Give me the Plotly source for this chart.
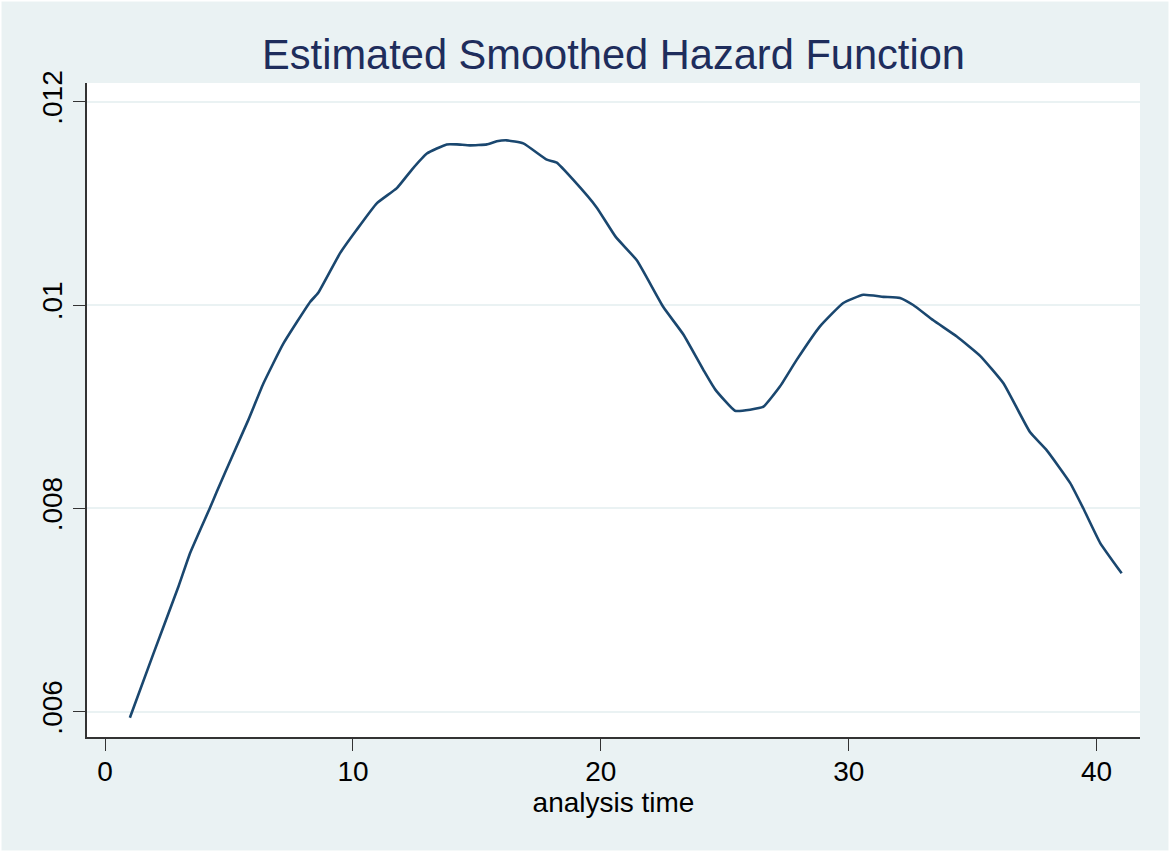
import plotly.graph_objects as go

# analysis time (x) and smoothed hazard estimate (y)
analysis_time = [1.0, 1.95, 2.96, 3.43, 4.24, 4.5, 5.18, 5.78, 6.39, 7.19, 8.27, 8.6,
                 9.48, 10.15, 10.96, 11.77, 12.37, 12.98, 13.78, 14.19, 14.72, 15.4,
                 15.8, 16.2, 16.87, 17.82, 18.22, 18.89, 19.83, 20.6, 21.45, 22.52,
                 23.33, 24.14, 24.61, 25.41, 26.02, 26.56, 27.23, 27.9, 28.84, 29.78,
                 30.59, 31.4, 32.07, 32.6, 33.41, 34.36, 35.3, 36.24, 37.31, 37.99,
                 38.93, 39.46, 40.14, 41.01]
hazard = [0.00594, 0.00657, 0.00723, 0.00756, 0.00801, 0.00816, 0.00854, 0.00887,
          0.00923, 0.00962, 0.01003, 0.01012, 0.01051, 0.01074, 0.01100, 0.01115,
          0.01133, 0.01149, 0.01158, 0.01158, 0.01157, 0.01158, 0.01161, 0.01162,
          0.01159, 0.01143, 0.01140, 0.01123, 0.01096, 0.01067, 0.01044, 0.00998,
          0.00971, 0.00936, 0.00917, 0.00896, 0.00897, 0.00900, 0.00920, 0.00946,
          0.00979, 0.01002, 0.01010, 0.01008, 0.01007, 0.01000, 0.00985, 0.00969,
          0.00950, 0.00923, 0.00875, 0.00857, 0.00825, 0.00800, 0.00766, 0.00736]

x_ticks = [0, 10, 20, 30, 40]
y_ticks = [0.006, 0.008, 0.010, 0.012]
y_tick_labels = [".006", ".008", ".01", ".012"]

BG = "#EAF2F3"
FONT = "Liberation Sans, Arial, sans-serif"

fig = go.Figure()
fig.add_trace(go.Scatter(
    x=analysis_time, y=hazard, mode="lines",
    line=dict(color="#1A476F", width=2.6, shape="spline", smoothing=0.4),
    showlegend=False, hoverinfo="x+y",
))

fig.update_layout(
    width=1170, height=852,
    paper_bgcolor=BG, plot_bgcolor="white",
    margin=dict(l=87, r=30, t=83, b=115),
    font=dict(family=FONT, color="black"),
    title=dict(text="Estimated Smoothed Hazard Function",
               x=(87 + 1140) / 2 / 1170, xanchor="center",
               y=1 - 54 / 852, yanchor="middle",
               font=dict(size=41.6, color="#1E2D5C", family=FONT)),
    showlegend=False,
)

fig.update_xaxes(
    range=[-0.73, 41.75], tickvals=x_ticks,
    ticks="outside", ticklen=12, tickwidth=1.2, tickcolor="#333333",
    tickfont=dict(size=28, color="black"), ticklabelstandoff=-3,
    showline=True, linecolor="#333333", linewidth=1.6,
    showgrid=False, zeroline=False,
    title=dict(text="analysis time", font=dict(size=28, color="black"), standoff=2),
)
fig.update_yaxes(
    range=[0.00575, 0.012184], tickvals=y_ticks, ticktext=y_tick_labels,
    tickangle=-90,
    ticks="outside", ticklen=12, tickwidth=1.2, tickcolor="#333333",
    tickfont=dict(size=28, color="black"),
    showline=True, linecolor="#333333", linewidth=1.6,
    showgrid=True, gridcolor=BG, gridwidth=2,
    zeroline=False,
)

fig.add_shape(type="rect", xref="paper", yref="paper",
              x0=-87 / 1053, x1=1 + 30 / 1053, y0=-115 / 654, y1=1 + 83 / 654,
              line=dict(color="white", width=3), fillcolor="rgba(0,0,0,0)", layer="below")

fig.write_html("out.html",
               config={"displayModeBar": False},
               post_script="document.body.style.margin='0';document.body.style.overflow='hidden';")
